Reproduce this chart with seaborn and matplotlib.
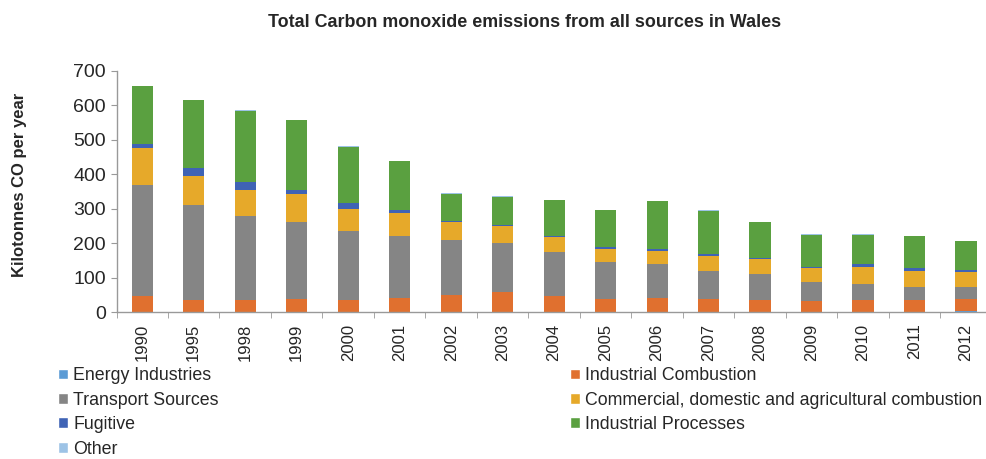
import pandas as pd
import numpy as np
import seaborn as sns
import matplotlib.pyplot as plt
from matplotlib.patches import Patch

# values (kilotonnes CO)
years = ["1990", "1995", "1998", "1999", "2000", "2001", "2002", "2003", "2004",
         "2005", "2006", "2007", "2008", "2009", "2010", "2011", "2012"]
energy = [2, 2, 2, 2, 2, 2, 2, 2, 2, 2, 2, 2, 2, 2, 2, 2, 5]
ind_comb = [46, 35, 35, 36, 34, 40, 47, 56, 46, 36, 40, 36, 34, 31, 34, 34, 33]
transport = [321, 274, 243, 225, 200, 179, 161, 144, 128, 109, 97, 83, 74, 54, 46, 37, 34]
commercial = [106, 85, 76, 80, 63, 66, 51, 47, 41, 37, 38, 41, 44, 41, 48, 48, 46]
fugitive = [14, 21, 22, 13, 19, 10, 5, 5, 3, 5, 6, 7, 3, 2, 9, 7, 6]
ind_proc = [167, 198, 207, 201, 162, 142, 78, 81, 106, 108, 140, 126, 104, 95, 86, 92, 83]
other = [1, 1, 1, 1, 1, 1, 1, 1, 1, 1, 1, 1, 1, 1, 1, 1, 1]

series = ["Energy Industries", "Industrial Combustion", "Transport Sources",
          "Commercial, domestic and agricultural combustion", "Fugitive",
          "Industrial Processes", "Other"]
values = [energy, ind_comb, transport, commercial, fugitive, ind_proc, other]
colors = ["#5B9BD5", "#E0702F", "#858585", "#E6A92A", "#3F63B5", "#5AA040", "#9DC3E6"]

sns.set_style("white")
plt.rcParams["font.family"] = ["Liberation Sans", "DejaVu Sans"]

fig = plt.figure(figsize=(9.86, 4.59), dpi=100)
ax = fig.add_axes([116.5 / 986, 0.3196, (991.7 - 116.5) / 986, 0.526])

# stacked bars: draw cumulative totals from the top layer down
cum = np.cumsum(np.array(values), axis=0)
for i in range(len(series) - 1, -1, -1):
    df = pd.DataFrame({"year": years, "val": cum[i]})
    sns.barplot(data=df, x="year", y="val", color=colors[i], width=0.41,
                saturation=1, ax=ax, errorbar=None, linewidth=0)

ax.set_ylim(0, 700)
ax.set_yticks(range(0, 701, 100))
ax.set_xlim(-0.5, len(years) - 0.5)
ax.set_xlabel("")
ax.set_ylabel("Kilotonnes CO per year", fontsize=12, fontweight="bold")
ax.yaxis.set_label_coords(-0.102, 0.529)
ax.tick_params(axis="y", labelsize=14, length=4, color="#999999", direction="out", left=True)
ax.tick_params(axis="x", labelsize=12, length=0, rotation=90, pad=8)
ax.set_xticks(np.arange(-0.5, len(years), 1), minor=True)
ax.tick_params(axis="x", which="minor", length=4, color="#999999", bottom=True)
for s in ["top", "right"]:
    ax.spines[s].set_visible(False)
for s in ["left", "bottom"]:
    ax.spines[s].set_color("#999999")
    ax.spines[s].set_linewidth(1)

fig.text(0.532, 0.952, "Total Carbon monoxide emissions from all sources in Wales",
         ha="center", va="center", fontsize=12.9, fontweight="bold")

# legend in two columns placed like the reference
col1 = [0, 2, 4, 6]
col2 = [1, 3, 5]
for idx, x0 in [(col1, 0.059), (col2, 0.578)]:
    handles = [Patch(facecolor=colors[i], label=series[i]) for i in idx]
    fig.legend(handles=handles, loc="upper left", bbox_to_anchor=(x0, 0.2),
               frameon=False, fontsize=12.8, handlelength=0.55, handleheight=0.55,
               handletextpad=0.3, labelspacing=0.42, borderaxespad=0, borderpad=0)

fig.savefig("out.png", dpi=100)
